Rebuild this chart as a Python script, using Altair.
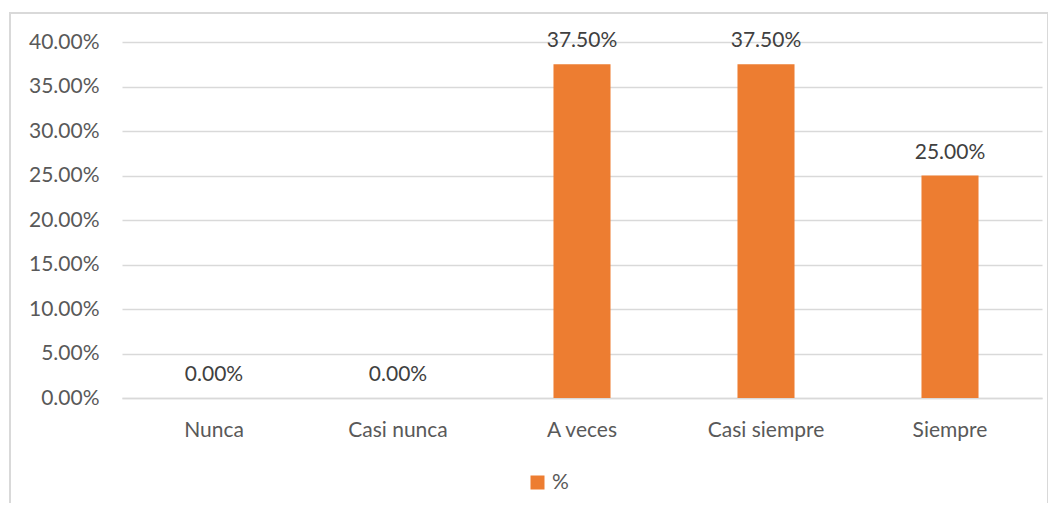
import altair as alt
import pandas as pd

categories = ["Nunca", "Casi nunca", "A veces", "Casi siempre", "Siempre"]
values = [0.0, 0.0, 0.375, 0.375, 0.25]
series_name = "%"
y_ticks = [0, 0.05, 0.10, 0.15, 0.20, 0.25, 0.30, 0.35, 0.40]

df = pd.DataFrame({"cat": categories, "val": values, "serie": [series_name] * len(categories)})

FONT = "Lato"
ORANGE = "#ED7D31"
W, H = 920, 356

x_enc = alt.X("cat:N", sort=categories, title=None,
              scale=alt.Scale(paddingInner=0.69, paddingOuter=0.345),
              axis=alt.Axis(labelAngle=0, labelFont=FONT, labelFontSize=21,
                            labelColor="#595959", labelPadding=21, ticks=False,
                            domainColor="#D9D9D9", domainWidth=1.5))
y_enc = alt.Y("val:Q", title=None,
              scale=alt.Scale(domain=[0, 0.40], nice=False),
              axis=alt.Axis(values=y_ticks, format=".2%", labelFont=FONT, labelFontSize=21,
                            labelColor="#595959", labelPadding=23, ticks=False, domain=False,
                            gridColor="#D9D9D9", gridWidth=1.5))

bars = alt.Chart(df).mark_bar(color=ORANGE).encode(
    x=x_enc, y=y_enc,
    color=alt.Color("serie:N", scale=alt.Scale(range=[ORANGE]), title=None,
                    legend=alt.Legend(orient="none", legendX=405, legendY=430,
                                      symbolType="square", symbolSize=196,
                                      symbolStrokeWidth=0, labelFont=FONT,
                                      labelFontSize=21, labelColor="#595959"))
)

labels = alt.Chart(df).mark_text(font=FONT, fontSize=21, color="#404040",
                                 baseline="bottom", dy=-13).encode(
    x=alt.X("cat:N", sort=categories),
    y="val:Q",
    text=alt.Text("val:Q", format=".2%")
)

border = alt.Chart(df).mark_rect(fill=None, stroke="#D9D9D9", strokeWidth=1.5).encode(
    x=alt.value(-112), x2=alt.value(926), y=alt.value(-29), y2=alt.value(520)
)

chart = alt.layer(border, bars, labels).properties(
    width=W, height=H,
    autosize=alt.AutoSizeParams(type="none"),
    padding={"left": 114, "top": 34, "right": 6, "bottom": 105}
).configure_view(stroke=None)

chart.save("out.html", embed_options={"renderer": "svg", "actions": False})
